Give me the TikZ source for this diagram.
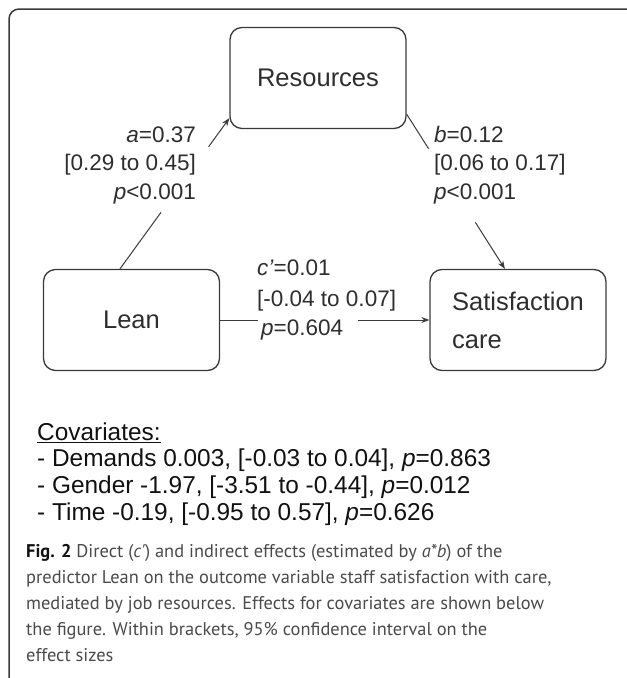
\documentclass[tikz,border=0pt]{standalone}
\usepackage{fontspec}
\setmainfont{Liberation Sans}
\newfontfamily\capfont{PT Sans}
\usetikzlibrary{calc,arrows.meta}
\definecolor{lnc}{HTML}{3A3A3A}
\definecolor{txt}{HTML}{2E2E2E}
\definecolor{covtxt}{HTML}{111111}
\definecolor{captxt}{HTML}{4A4A4A}
\begin{document}
\begin{tikzpicture}[x=1pt,y=-1pt,
  box/.style={draw=lnc, line width=1.3pt, rounded corners=12pt, minimum width=176pt, minimum height=101pt, inner sep=0pt, font=\fontsize{25.5}{38}\selectfont, text=txt},
  lab/.style={font=\fontsize{22.5}{28.5}\selectfont, text=txt, inner sep=0pt},
  cov/.style={font=\fontsize{24.4}{26.7}\selectfont, text=covtxt, inner sep=0pt},
  captionstyle/.style={font=\capfont\fontsize{18.4}{26}\selectfont, text=captxt, inner sep=0pt},
  conn/.style={draw=lnc, line width=1pt},
  arr/.style={conn, -{Stealth[length=8pt,width=6pt]}},
  framestyle/.style={draw=lnc, line width=1.5pt, rounded corners=10pt}]
\useasboundingbox (0,0) rectangle (627,678);
\draw[framestyle] (627,9) -- (9,9) -- (9,678);

\node[box] (res) at (318,78) {Resources};
\node[box] (lean) at (131.5,320) {Lean};
\node[box, align=left] (sat) at (518,320) {Satisfaction\\care};

% a path
\coordinate (aS) at ($(lean.north west)!0.435!(lean.north east)$);
\coordinate (aE) at ($(res.south west)+(0,-11)$);
\draw[conn] (aS) -- ($(aS)!0.375!(aE)$);
\draw[arr] ($(aS)!0.81!(aE)$) -- (aE);

% b path
\coordinate (bS) at ($(res.south east)+(0,-15)$);
\coordinate (bE) at ($(sat.north west)!0.426!(sat.north east)$);
\draw[conn] (bS) -- ($(bS)!0.224!(bE)$);
\draw[arr] ($(bS)!0.70!(bE)$) -- (bE);

% c' path
\draw[conn] (lean.east) -- ($(lean.east)!0.18!(sat.west)$);
\draw[arr] ($(lean.east)!0.657!(sat.west)$) -- (sat.west);

\node[lab, align=right, anchor=east] (la) at (196,165) {\textit{a}=0.37\\{[0.29 to 0.45]}\\\textit{p}<0.001};
\node[lab, align=left, anchor=west] (lb) at (434,165) {\textit{b}=0.12\\{[0.06 to 0.17]}\\\textit{p}<0.001};
\node[lab, align=left, anchor=west] (lc) at (257,299.5) {\textit{c'}=0.01\\[3pt]{[-0.04 to 0.07]}\\\hspace{4pt}\textit{p}=0.604};

\node[cov, align=left, anchor=west] (covs) at (37,474) {\underline{Covariates:}\\- Demands 0.003, [-0.03 to 0.04], \textit{p}=0.863\\- Gender -1.97, [-3.51 to -0.44], \textit{p}=0.012\\- Time -0.19, [-0.95 to 0.57], \textit{p}=0.626};

\node[captionstyle, align=left, anchor=west] (capt) at (26,603) {{\color{covtxt}\textbf{Fig. 2}} Direct (\textit{c'}) and indirect effects (estimated by \textit{a*b}) of the\\predictor Lean on the outcome variable staff satisfaction with care,\\mediated by job resources. Effects for covariates are shown below\\the figure. Within brackets, 95\% confidence interval on the\\effect sizes};
\end{tikzpicture}
\end{document}
